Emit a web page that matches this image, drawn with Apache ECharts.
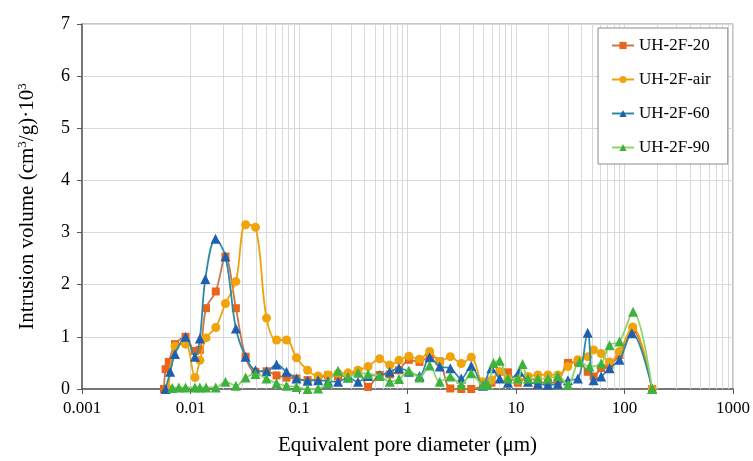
<!DOCTYPE html>
<html>
<head>
<meta charset="utf-8">
<script src="https://cdn.jsdelivr.net/npm/echarts@6/dist/echarts.min.js"></script>
<style>html,body{margin:0;padding:0;background:#fff;}#c{width:753px;height:461px;}</style>
</head>
<body>
<div id="c"></div>
<script>
const seriesNames = ['UH-2F-20', 'UH-2F-air', 'UH-2F-60', 'UH-2F-90'];
const xTickLabels = ['0.001', '0.01', '0.1', '1', '10', '100', '1000'];
const yTickLabels = ['0', '1', '2', '3', '4', '5', '6', '7'];

const d20 = [0.0057,0.0059,0.0063,0.0072,0.0090,0.0110,0.0122,0.0139,0.0171,0.0210,0.0262,0.0322,0.0397,0.0502,0.0621,0.0767,0.0948,0.120,0.150,0.185,0.229,0.283,0.350,0.433,0.554,0.686,0.835,1.03,1.29,1.60,1.98,2.48,3.13,3.87,4.96,5.93,7.07,8.43,10.4,12.9,15.9,19.7,24.3,30.1,37.2,45.8,51.9,61,72.8,89.9,119,180];
const v20 = [0,0.38,0.52,0.86,1.0,0.73,0.75,1.55,1.87,2.54,1.55,0.62,0.33,0.34,0.26,0.22,0.2,0.17,0.2,0.26,0.24,0.26,0.34,0.04,0.27,0.28,0.36,0.56,0.52,0.62,0.53,0.01,0,0,0.06,0.12,0.33,0.32,0.12,0.22,0.14,0.12,0.15,0.5,0.52,0.33,0.24,0.4,0.46,0.65,1.13,0];

const dAir = [0.0063,0.0072,0.0090,0.0110,0.0122,0.0139,0.0171,0.0210,0.0262,0.0322,0.0397,0.0502,0.0621,0.0767,0.0948,0.120,0.150,0.185,0.229,0.283,0.350,0.433,0.554,0.686,0.835,1.03,1.29,1.60,1.98,2.48,3.13,3.87,4.96,5.93,7.07,8.43,10.4,12.9,15.9,19.7,24.3,30.1,37.2,45.8,51.9,61,72.8,89.9,119,180];
const vAir = [0,0.82,0.86,0.22,0.55,0.98,1.18,1.64,2.06,3.15,3.10,1.36,0.94,0.94,0.60,0.36,0.25,0.27,0.3,0.31,0.36,0.43,0.58,0.46,0.55,0.63,0.57,0.72,0.52,0.62,0.49,0.61,0.14,0.17,0.33,0.2,0.17,0.24,0.27,0.27,0.27,0.43,0.56,0.62,0.75,0.68,0.52,0.72,1.19,0];

const d60 = [0.0059,0.0065,0.0072,0.0090,0.0110,0.0122,0.0137,0.0170,0.0210,0.0262,0.0322,0.0397,0.0502,0.0621,0.0767,0.0948,0.120,0.150,0.185,0.229,0.283,0.350,0.433,0.554,0.686,0.835,1.03,1.29,1.60,1.98,2.48,3.13,3.87,4.96,5.93,7.07,8.43,10.7,12.9,15.9,19.7,24.3,30.1,37.2,45.8,51.9,61,72.8,89.9,117,180];
const v60 = [0,0.33,0.67,1.0,0.62,0.97,2.11,2.88,2.54,1.16,0.62,0.36,0.34,0.47,0.33,0.2,0.16,0.17,0.15,0.14,0.22,0.14,0.25,0.27,0.33,0.40,0.33,0.25,0.61,0.43,0.40,0.2,0.44,0.06,0.40,0.2,0.12,0.33,0.14,0.1,0.08,0.1,0.17,0.2,1.08,0.17,0.24,0.40,0.56,1.07,0];

const d90 = [0.0068,0.0078,0.0090,0.0110,0.0122,0.0139,0.0171,0.0210,0.0262,0.0322,0.0397,0.0502,0.0621,0.0767,0.0948,0.120,0.150,0.185,0.229,0.283,0.350,0.433,0.554,0.686,0.835,1.03,1.29,1.60,1.98,2.48,3.13,3.87,4.96,5.5,6.2,7.07,8.43,10.4,11.5,12.9,15.9,19.7,24.3,30.1,38.5,47.6,61,72.8,89.9,120,180];
const v90 = [0.02,0.03,0.03,0.03,0.03,0.03,0.03,0.14,0.06,0.22,0.29,0.2,0.11,0.06,0.04,0,0.01,0.11,0.35,0.22,0.31,0.29,0.25,0.14,0.19,0.35,0.22,0.45,0.14,0.24,0.08,0.3,0.08,0.08,0.5,0.54,0.2,0.2,0.48,0.2,0.2,0.2,0.25,0.08,0.52,0.43,0.49,0.84,0.91,1.48,0];

function zip(xs, ys) { return xs.map((x, i) => [x, ys[i]]); }

// minor (2..9 x decade) vertical grid positions
const minorGrid = [];
for (let k = -3; k <= 2; k++) {
  for (let m = 2; m <= 9; m++) minorGrid.push({ xAxis: m * Math.pow(10, k) });
}

const FONT = "'Liberation Serif', 'Times New Roman', serif";
const gridColor = '#d9d9d9';

const styles = [
  { line: '#C8744E', mark: '#E8651A', symbol: 'rect', size: 8 },
  { line: '#EEA20C', mark: '#F0A30A', symbol: 'circle', size: 9 },
  { line: '#2E8AA0', mark: '#1F5FB0', symbol: 'triangle', size: 10 },
  { line: '#8FD46A', mark: '#3DB23D', symbol: 'triangle', size: 10 }
];
const dataSets = [zip(d20, v20), zip(dAir, vAir), zip(d60, v60), zip(d90, v90)];

const series = [{
  name: 'minor-grid',
  type: 'line',
  data: [],
  z: 1,
  silent: true,
  markLine: {
    z: 1,
    silent: true,
    symbol: ['none', 'none'],
    label: { show: false },
    animation: false,
    lineStyle: { color: gridColor, width: 1, type: 'solid' },
    emphasis: { disabled: true },
    data: minorGrid
  }
}];
seriesNames.forEach((n, i) => {
  const s = styles[i];
  series.push({
    name: n,
    type: 'line',
    data: dataSets[i],
    smooth: 0.35,
    symbol: s.symbol,
    symbolSize: s.size,
    showAllSymbol: true,
    lineStyle: { color: s.line, width: 1.8 },
    itemStyle: { color: s.mark },
    z: 3 + i,
    animation: false
  });
});

const chart = echarts.init(document.getElementById('c'), null, { renderer: 'canvas' });
chart.setOption({
  backgroundColor: '#ffffff',
  animation: false,
  grid: {
    left: 82, right: 19.5, top: 24, bottom: 72,
    show: true, borderColor: '#8c8c8c', borderWidth: 1, backgroundColor: 'transparent'
  },
  legend: {
    type: 'plain',
    z: 20,
    data: seriesNames,
    orient: 'vertical',
    left: 598, top: 28,
    padding: [9, 17, 8, 13],
    itemGap: 17,
    itemWidth: 22, itemHeight: 9,
    backgroundColor: '#ffffff',
    borderColor: '#8c8c8c', borderWidth: 1,
    textStyle: { fontFamily: FONT, fontSize: 17, color: '#000', lineHeight: 17 }
  },
  xAxis: {
    type: 'log', logBase: 10, min: 0.001, max: 1000,
    name: 'Equivalent pore diameter (\u03bcm)',
    nameLocation: 'middle', nameGap: 46,
    nameTextStyle: { fontFamily: FONT, fontSize: 21, color: '#000' },
    axisLine: { show: true, onZero: false, lineStyle: { color: '#595959', width: 1.5 } },
    axisTick: { show: true, length: 5, lineStyle: { color: '#595959' } },
    axisLabel: {
      fontFamily: FONT, fontSize: 17, color: '#000', margin: 11,
      formatter: function (v) {
        const idx = Math.round(Math.log10(v)) + 3;
        return xTickLabels[idx] !== undefined ? xTickLabels[idx] : '';
      }
    },
    splitLine: { show: true, lineStyle: { color: gridColor, width: 1 } },
    minorTick: { show: false }, minorSplitLine: { show: false }
  },
  yAxis: {
    type: 'value', min: 0, max: 7, interval: 1,
    name: 'Intrusion volume (cm{sup|3}/g)\u00b710{sup|3}',
    nameLocation: 'middle', nameGap: 44, nameRotate: 90,
    nameTextStyle: {
      fontFamily: FONT, fontSize: 21, color: '#000',
      rich: { sup: { fontFamily: FONT, fontSize: 13, verticalAlign: 'top', padding: [0, 0, 9, 0], color: '#000' } }
    },
    axisLine: { show: true, lineStyle: { color: '#595959', width: 1.5 } },
    axisTick: { show: true, length: 5, lineStyle: { color: '#595959' } },
    axisLabel: {
      fontFamily: FONT, fontSize: 18, color: '#000', margin: 12,
      formatter: function (v) { return yTickLabels[Math.round(v)]; }
    },
    splitLine: { show: true, lineStyle: { color: gridColor, width: 1 } }
  },
  series: series
});
</script>
</body>
</html>
